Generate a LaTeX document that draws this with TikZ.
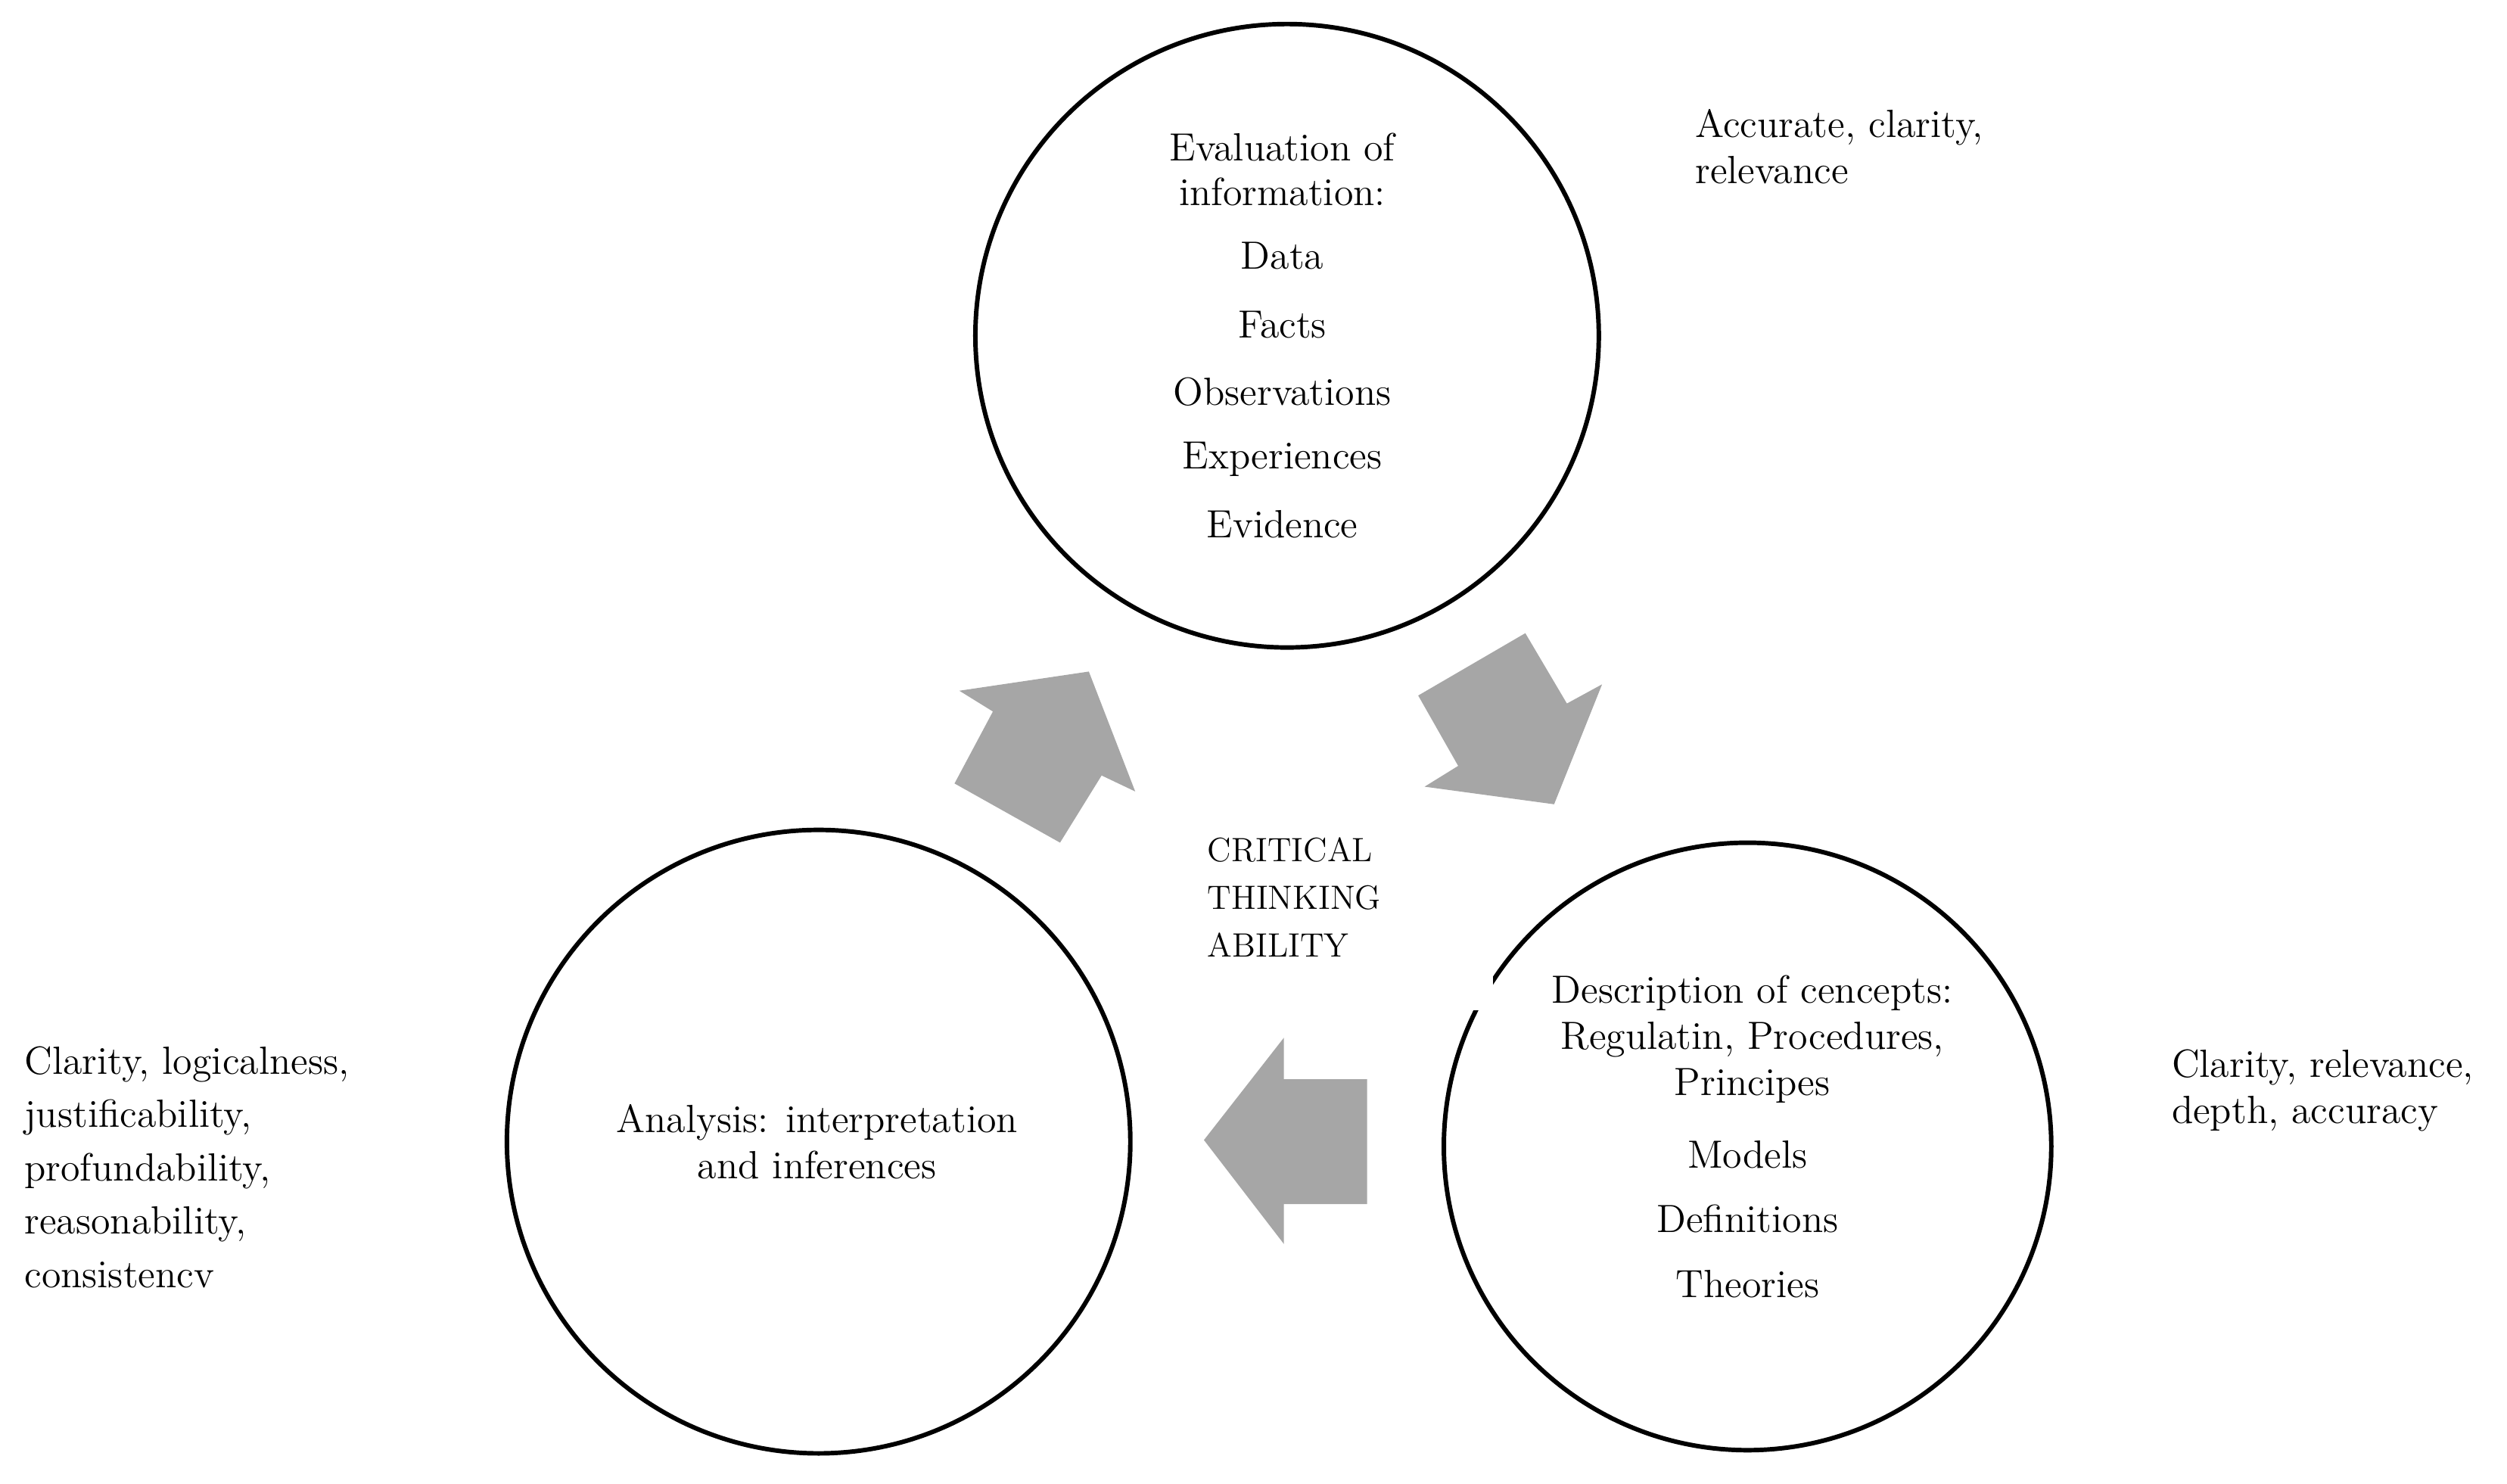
\documentclass[tikz,border=0pt]{standalone}
\tikzset{
  ring/.style={draw,circle,line width=1.6pt,minimum size=#1,inner sep=0pt},
  txt/.style={font=\fontsize{14}{16.5}\selectfont,inner sep=0pt},
  side/.style={txt,align=left,anchor=north west},
  flow/.style={fill=gray!70,draw=none},
}
\begin{document}
\begin{tikzpicture}[x=0.02cm,y=-0.02cm]
  \useasboundingbox (0,0) rectangle (1568,928);

  % circles
  \node[ring=7.8cm] (info) at (805,210) {};
  \node[ring=7.8cm] (anal) at (512,714) {};
  \node[ring=7.6cm] (conc) at (1093,717) {};
  \fill[white] (916,609) rectangle (934,632);

  % arrows
  \fill[flow] (597,490) -- (621,445) -- (600,432) -- (681,420) -- (710,495)
    -- (689,485) -- (663,527) -- cycle;
  \fill[flow] (887,435) -- (954,396) -- (980,440) -- (1002,428) -- (972,503)
    -- (891,492) -- (912,479) -- cycle;
  \fill[flow] (855,675) -- (803,675) -- (803,649) -- (753,713) -- (803,778)
    -- (803,753) -- (855,753) -- cycle;

  % texts
  \node[txt,align=center,font=\fontsize{14}{16}\selectfont] (t1) at (802,106) {Evaluation of\\information:};
  \node[txt] (t2) at (802,160) {Data};
  \node[txt] (t3) at (802,203) {Facts};
  \node[txt] (t4) at (802,245) {Observations};
  \node[txt] (t5) at (802,287) {Experiences};
  \node[txt] (t6) at (802,328) {Evidence};

  \node[txt,align=center] (d1) at (1096,650) {Description of cencepts:\\Regulatin, Procedures,\\Principes};
  \node[txt] (d2) at (1093,722) {Models};
  \node[txt] (d3) at (1093,762) {Definitions};
  \node[txt] (d4) at (1093,803) {Theories};

  \node[txt,align=center] (n1) at (511,714) {Analysis: interpretation\\and inferences};

  \node[txt,align=left,anchor=west,font=\fontsize{12}{17}\selectfont] (ct) at (755,561) {CRITICAL\\THINKING\\ABILITY};

  \node[side] (s1) at (1060,68) {Accurate, clarity,\\relevance};
  \node[side] (s2) at (1358,656) {Clarity, relevance,\\depth, accuracy};
  \node[side,font=\fontsize{14}{19}\selectfont] (s3) at (15,654) {Clarity, logicalness,\\justificability,\\profundability,\\reasonability,\\consistencv};
\end{tikzpicture}
\end{document}
